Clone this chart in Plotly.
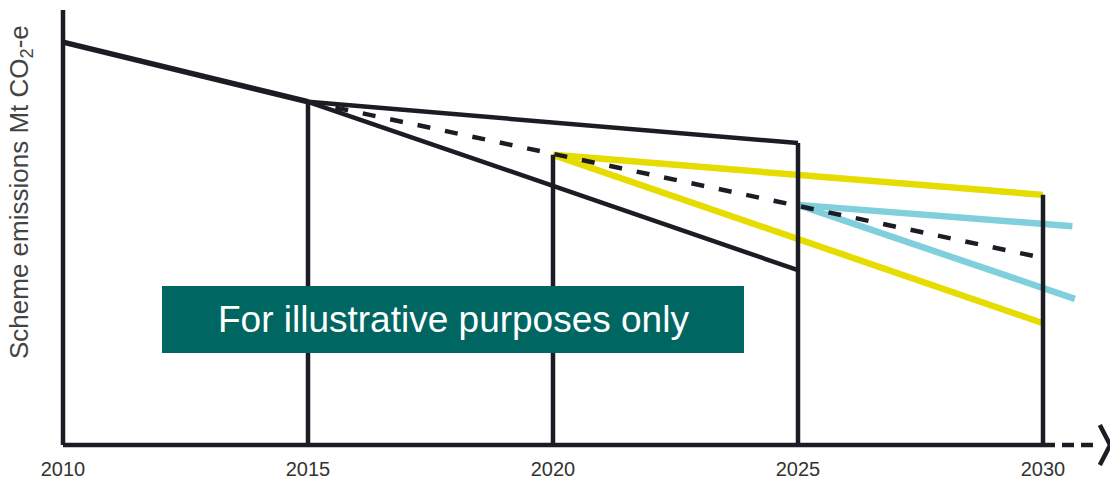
import plotly.graph_objects as go

# ---- data (values in arbitrary Mt CO2-e units) ----
hist_years = [2010, 2015]
hist_vals = [92.6, 78.9]

upper_years = [2015, 2025]
upper_vals = [78.9, 69.4]

lower_years = [2015, 2025]
lower_vals = [78.9, 40.2]

mid_years = [2015, 2030]
mid_vals = [78.9, 43.0]

yel_up_years = [2020, 2030]
yel_up_vals = [66.7, 57.5]
yel_lo_years = [2020, 2030]
yel_lo_vals = [66.7, 28.0]

cyan_up_years = [2025, 2030.6]
cyan_up_vals = [55.2, 50.3]
cyan_lo_years = [2025, 2030.65]
cyan_lo_vals = [55.2, 33.6]

vert_years = [2015, 2020, 2025, 2030]
vert_tops = [78.9, 66.7, 69.4, 57.5]

tick_years = [2010, 2015, 2020, 2025, 2030]
tick_text = ["2010", "2015", "2020", "2025", "2030"]

y_axis_top = 100.0
x_axis_end = 2030
x_arrow_end = 2031.05
arrow_tip = 2031.37
arrow_back = 2031.16
arrow_half = 4.6

BLACK = "#1c1c24"
YELLOW = "#e6dc00"
CYAN = "#80cfdc"
TEAL = "#006661"

fig = go.Figure()

def line(x, y, color, width, dash="solid"):
    fig.add_trace(go.Scatter(x=x, y=y, mode="lines", showlegend=False,
                             hoverinfo="skip",
                             line=dict(color=color, width=width, dash=dash)))

# coloured scenario lines
line(yel_up_years, yel_up_vals, YELLOW, 6.5)
line(yel_lo_years, yel_lo_vals, YELLOW, 6.5)
line(cyan_up_years, cyan_up_vals, CYAN, 6.5)
line(cyan_lo_years, cyan_lo_vals, CYAN, 6.5)

# black trajectories
line(hist_years, hist_vals, BLACK, 5.5)
line(upper_years, upper_vals, BLACK, 4.5)
line(lower_years, lower_vals, BLACK, 4.5)
line(mid_years, mid_vals, BLACK, 4.5, dash="13px,15px")

# vertical period markers
vx, vy = [], []
for yr, top in zip(vert_years, vert_tops):
    vx += [yr, yr, None]
    vy += [0, top, None]
line(vx, vy, BLACK, 4.5)

# axes drawn as lines
line([tick_years[0], tick_years[0]], [0, y_axis_top], BLACK, 4.5)
line([tick_years[0], x_axis_end], [0, 0], BLACK, 4.5)
line([x_axis_end, x_arrow_end], [0, 0], BLACK, 4.5, dash="12px,7px")
line([arrow_back, arrow_tip, arrow_back], [arrow_half, 0, -arrow_half], BLACK, 4.5)

W, H = 1110, 480
px_per_year = 49.0
x0_px = 63
y0_px = 445
px_per_unit = 4.35

fig.update_layout(
    width=W, height=H,
    margin=dict(l=0, r=0, t=0, b=0),
    paper_bgcolor="white", plot_bgcolor="white",
    xaxis=dict(range=[2010 - x0_px / px_per_year, 2010 + (W - x0_px) / px_per_year],
               showgrid=False, zeroline=False, showline=False, ticks="",
               tickvals=tick_years, ticktext=tick_text,
               tickfont=dict(family="Liberation Sans, Arial", size=20, color="#333333"),
               anchor="free", position=(H - y0_px) / H, ticklabelstandoff=10,
               automargin=False),
    yaxis=dict(range=[(y0_px - H) / px_per_unit, y0_px / px_per_unit],
               showgrid=False, zeroline=False, showline=False,
               showticklabels=False, ticks="", automargin=False),
    font=dict(family="Liberation Sans, Arial"),
    shapes=[dict(type="rect", xref="paper", yref="paper",
                 x0=162 / W, x1=744 / W, y0=1 - 353 / H, y1=1 - 286 / H,
                 fillcolor=TEAL, line=dict(width=0), layer="above")],
    annotations=[
        dict(text="For illustrative purposes only", xref="paper", yref="paper",
             x=453 / W, y=1 - 319 / H, xanchor="center", yanchor="middle",
             showarrow=False, font=dict(size=37, color="white",
                                         family="Liberation Sans, Arial")),
        dict(text="Scheme emissions Mt CO<sub>2</sub>-e", xref="paper", yref="paper",
             x=20 / W, y=1 - 192 / H, xanchor="center", yanchor="middle",
             textangle=-90, showarrow=False,
             font=dict(size=26, color="#444444", family="Liberation Sans, Arial")),
    ],
)

fig.write_html("out.html")
